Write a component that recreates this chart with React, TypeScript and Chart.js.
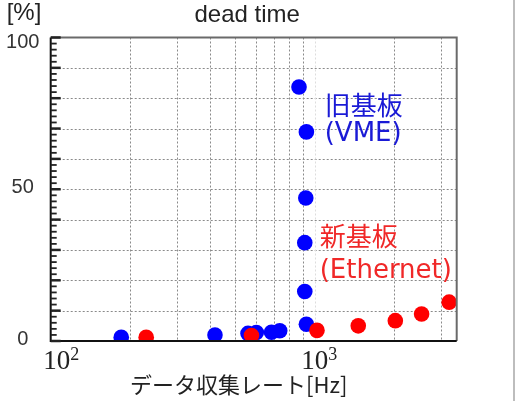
import { useEffect, useRef } from "react";
import { Chart, registerables } from "chart.js";

Chart.register(...registerables);

// ---- data ----
const vmeRate = [185, 419, 559, 601, 686, 737, 872, 930, 925, 917, 917, 930];
const vmeDead = [1.2, 2.0, 2.5, 2.8, 2.9, 3.4, 83.7, 68.9, 47.1, 32.4, 16.3, 5.5];
const ethRate = [230, 576, 1020, 1462, 2020, 2540, 3230];
const ethDead = [1.2, 1.8, 3.5, 5.0, 6.7, 8.9, 12.8];

const xGridValues = [200, 300, 400, 500, 600, 700, 800, 900, 1000, 2000, 3000];
const yGridValues = [10, 20, 30, 40, 50, 60, 70, 80, 90];
const yTickLabels = [0, 50, 100];
const xTickValues = [100, 1000];
const xTickExps = ["2", "3"];

const annoText = ["旧基板", "(VME)", "新基板", "(Ethernet)"];
const annoX = [1091, 1091, 1044, 1044];
const annoY = [74.6, 65.8, 31.35, 20.6];
const annoColor = ["#1a1ad6", "#1a1ad6", "#f02828", "#f02828"];

const titleText = "dead time";
const yUnitText = "[%]";
const xTitleText = "データ収集レート[Hz]";

const decor = {
  id: "decor",
  beforeDatasetsDraw(chart: any) {
    const { ctx, chartArea: a, scales } = chart;
    const x = scales.x;
    const y = scales.y;
    ctx.save();
    ctx.lineWidth = 1;
    ctx.setLineDash([2, 2]);
    for (const v of yGridValues) {
      const py = Math.round(y.getPixelForValue(v)) + 0.5;
      ctx.strokeStyle = "#8a8a8a";
      ctx.beginPath();
      ctx.moveTo(a.left, py);
      ctx.lineTo(a.right, py);
      ctx.stroke();
    }
    for (const v of xGridValues) {
      const px = Math.round(x.getPixelForValue(v)) + 0.5;
      ctx.strokeStyle = v === 1000 ? "#dddddd" : "#8a8a8a";
      ctx.beginPath();
      ctx.moveTo(px, a.top);
      ctx.lineTo(px, a.bottom);
      ctx.stroke();
    }
    ctx.restore();
  },
  afterDatasetsDraw(chart: any) {
    const { ctx, chartArea: a, scales } = chart;
    const x = scales.x;
    const y = scales.y;
    ctx.save();
    ctx.setLineDash([]);
    // frame: top & right
    ctx.strokeStyle = "#6a6a6a";
    ctx.lineWidth = 2;
    ctx.beginPath();
    ctx.moveTo(a.left, a.top);
    ctx.lineTo(a.right, a.top);
    ctx.lineTo(a.right, a.bottom);
    ctx.stroke();
    // axes: left & bottom
    ctx.strokeStyle = "#111";
    ctx.beginPath();
    ctx.moveTo(a.left, a.top);
    ctx.lineTo(a.left, a.bottom);
    ctx.lineTo(a.right, a.bottom);
    ctx.stroke();
    // y minor/major tick marks
    for (let v = 0; v <= 100; v += 2) {
      const py = y.getPixelForValue(v);
      const major = v % 10 === 0;
      ctx.lineWidth = major ? 2.5 : 1.8;
      ctx.strokeStyle = "#222";
      ctx.beginPath();
      ctx.moveTo(a.left, py);
      ctx.lineTo(a.left + (major ? 10 : 6), py);
      ctx.stroke();
    }
    // y tick labels
    ctx.fillStyle = "#333";
    ctx.font = '20px "Liberation Sans", Arial, sans-serif';
    ctx.textAlign = "center";
    ctx.textBaseline = "middle";
    for (const v of yTickLabels) {
      const py = Math.max(y.getPixelForValue(v) - 2, a.top + 5);
      ctx.fillText(String(v), a.left - 28, py);
    }
    // x tick labels 10^n
    ctx.textBaseline = "alphabetic";
    xTickValues.forEach((v, i) => {
      const px = Math.max(x.getPixelForValue(v), a.left + 6);
      ctx.font = '27px "Liberation Serif", serif';
      ctx.textAlign = "center";
      ctx.fillStyle = "#222";
      ctx.fillText("10", px, a.bottom + 28);
      const w = ctx.measureText("10").width;
      ctx.font = '18px "Liberation Serif", serif';
      ctx.textAlign = "left";
      ctx.fillText(xTickExps[i], px + w / 2, a.bottom + 19);
    });
    // x title
    ctx.font = '22px "Noto Sans CJK JP", sans-serif';
    ctx.textAlign = "center";
    ctx.textBaseline = "middle";
    ctx.fillStyle = "#222";
    ctx.fillText(xTitleText, (a.left + a.right) / 2 - 15, a.bottom + 44);
    // title
    ctx.font = '24px "Liberation Sans", Arial, sans-serif';
    ctx.textBaseline = "alphabetic";
    ctx.fillText(titleText, (a.left + a.right) / 2 - 6.5, a.top - 15.5);
    // unit
    ctx.textAlign = "left";
    ctx.fillText(yUnitText, a.left - 44, a.top - 17.5);
    // annotations
    ctx.font = '26px "DejaVu Sans", "Noto Sans CJK JP", sans-serif';
    annoText.forEach((t, i) => {
      ctx.fillStyle = annoColor[i];
      ctx.fillText(t, x.getPixelForValue(annoX[i]), y.getPixelForValue(annoY[i]));
    });
    // window edge line at right
    ctx.fillStyle = "#bdbdbd";
    ctx.fillRect(chart.width - 3, 0, 2, chart.height);
    ctx.restore();
  },
};

export default function App() {
  const ref = useRef<HTMLCanvasElement | null>(null);
  useEffect(() => {
    if (!ref.current) return;
    const chart = new Chart(ref.current, {
      type: "scatter",
      data: {
        datasets: [
          {
            label: "新基板 (Ethernet)",
            data: ethRate.map((r, i) => ({ x: r, y: ethDead[i] })),
            backgroundColor: "#ff0000",
            pointBackgroundColor: "#ff0000",
            pointBorderWidth: 0,
            pointRadius: 7.8,
            clip: 0,
          },
          {
            label: "旧基板 (VME)",
            data: vmeRate.map((r, i) => ({ x: r, y: vmeDead[i] })),
            backgroundColor: "#0000ff",
            pointBackgroundColor: "#0000ff",
            pointBorderWidth: 0,
            pointRadius: 7.8,
            clip: 0,
          },
        ],
      },
      options: {
        animation: false,
        responsive: false,
        events: [],
        layout: { padding: { left: 50.7, top: 37.5, right: 59.3, bottom: 60 } },
        plugins: { legend: { display: false }, tooltip: { enabled: false }, title: { display: false } },
        scales: {
          x: {
            type: "logarithmic",
            min: 100,
            max: 3450,
            ticks: { display: false },
            grid: { display: false, drawTicks: false },
            border: { display: false },
          },
          y: {
            type: "linear",
            min: 0,
            max: 100,
            ticks: { display: false },
            grid: { display: false, drawTicks: false },
            border: { display: false },
          },
        },
      },
      plugins: [decor],
    } as any);
    return () => chart.destroy();
  }, []);
  return (
    <div style={{ position: "absolute", left: 0, top: 0, width: 516, height: 401, background: "#fff" }}>
      <canvas ref={ref} width={516} height={401} style={{ width: 516, height: 401, display: "block" }} />
    </div>
  );
}
